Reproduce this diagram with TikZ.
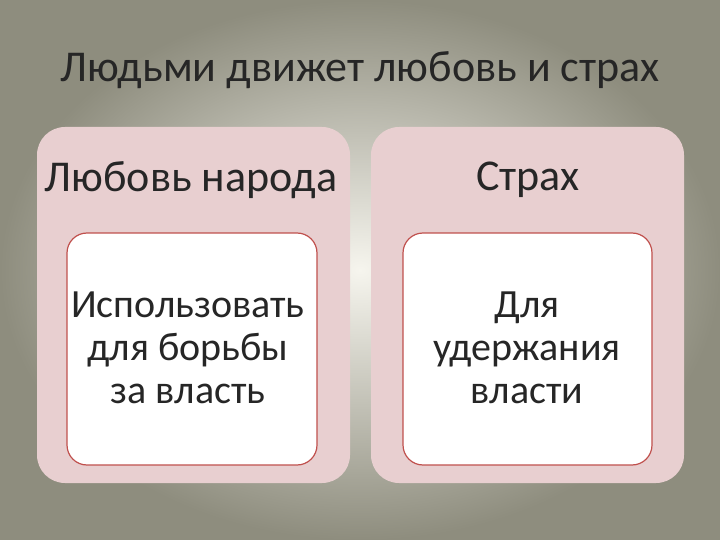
\documentclass[tikz,border=0pt]{standalone}
\usepackage{fontspec}
\setmainfont{Carlito}
\definecolor{outerc}{HTML}{E8CFD0}
\definecolor{edgec}{HTML}{C0504D}
\definecolor{bgin}{HTML}{F6F5EE}
\definecolor{bgout}{HTML}{8E8D7E}
\tikzset{
 outerbox/.style={fill=outerc,draw=none,rounded corners=28pt},
 innerbox/.style={fill=white,draw=edgec,line width=1.2pt,rounded corners=20pt},
 ttl/.style={font=\fontsize{44}{48}\selectfont,text=black!85},
 hdr/.style={font=\fontsize{44}{48}\selectfont,text=black!85},
 body/.style={font=\fontsize{40}{43}\selectfont,text=black!85,align=center},
}
\begin{document}
\begin{tikzpicture}[x=1pt,y=-1pt]
\useasboundingbox (0,0) rectangle (720,540);
\shade[inner color=bgin,outer color=bgout] (0,0) rectangle (720,540);
\node[ttl] (title) at (360,70) {Людьми движет любовь и страх};
\draw[outerbox] (37,127) rectangle (350,483);
\draw[outerbox] (371,127) rectangle (684,483);
\node[hdr] (h1) at (191,180) {Любовь народа};
\node[hdr] (h2) at (528,180) {Страх};
\draw[innerbox] (67,233) rectangle (317,465);
\draw[innerbox] (403,233) rectangle (652,465);
\node[body] (b1) at (188,348) {Использовать\\для борьбы\\за власть};
\node[body] (b2) at (527,348) {Для\\удержания\\власти};
\end{tikzpicture}
\end{document}
